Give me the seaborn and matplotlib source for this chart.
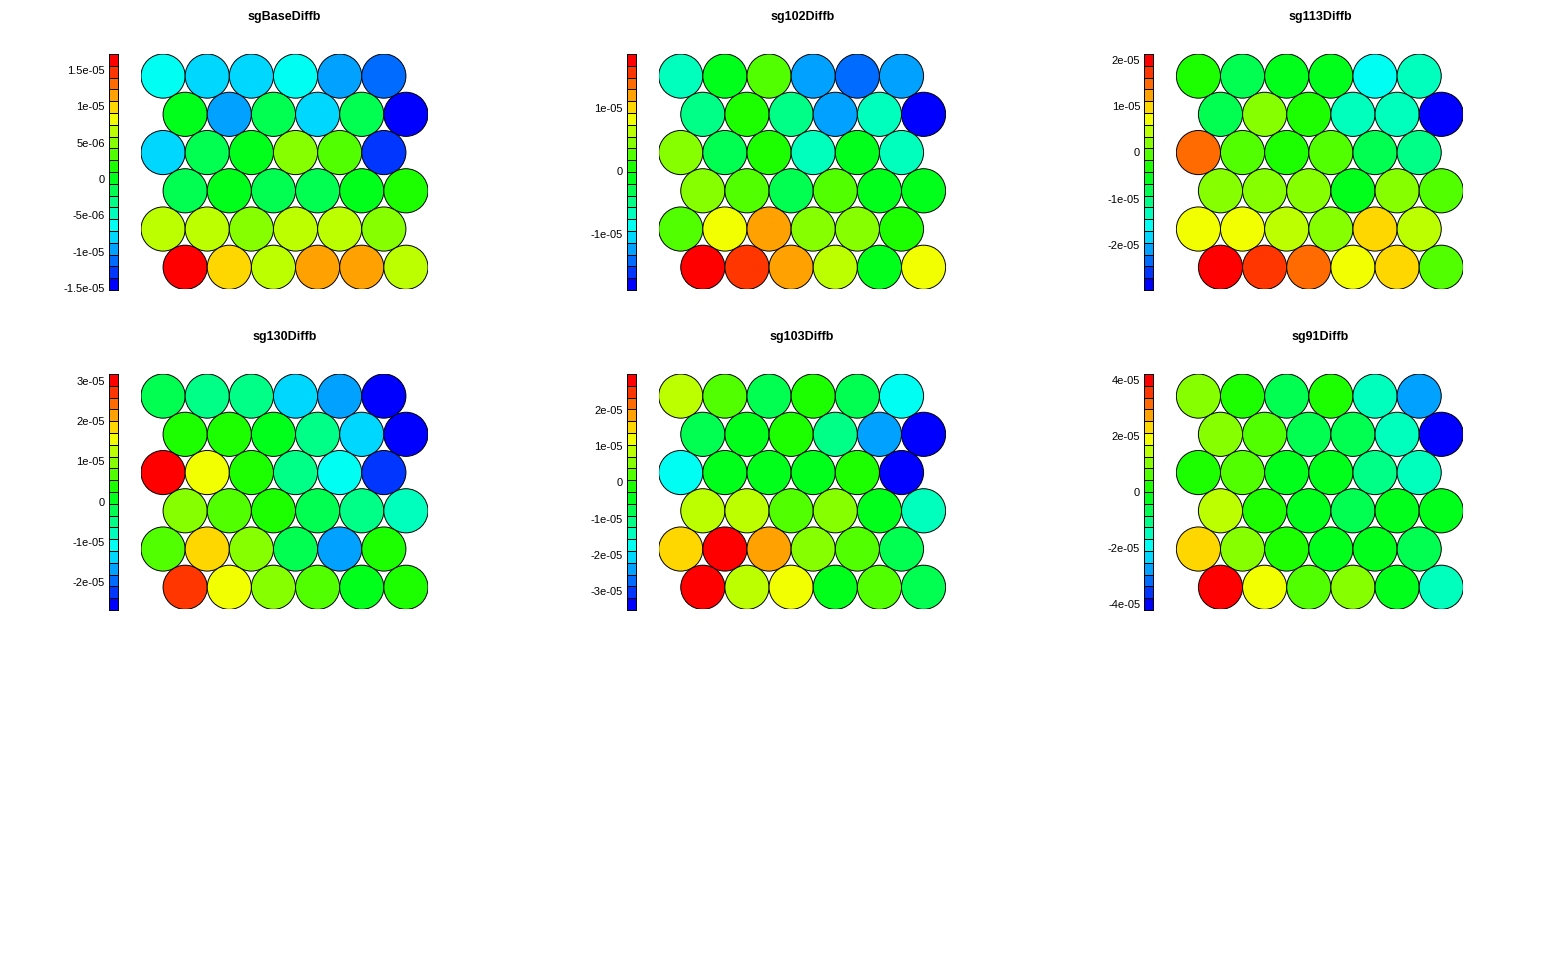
import colorsys
import numpy as np
import matplotlib
matplotlib.use("Agg")
import matplotlib.pyplot as plt
from matplotlib.patches import Circle
from matplotlib.colors import ListedColormap
import seaborn as sns

# ---------------- data (node values, top row first, 6x6 hex SOM) ----------------
titles = ["sgBaseDiffb", "sg102Diffb", "sg113Diffb", "sg130Diffb", "sg103Diffb", "sg91Diffb"]

sgBaseDiffb = [
    [-0.62e-05, -0.78e-05, -0.78e-05, -0.62e-05, -0.94e-05, -1.10e-05],
    [0.03e-05, -0.94e-05, -0.13e-05, -0.78e-05, -0.13e-05, -1.51e-05],
    [-0.78e-05, -0.13e-05, 0.03e-05, 0.52e-05, 0.35e-05, -1.27e-05],
    [-0.13e-05, 0.03e-05, -0.13e-05, -0.13e-05, 0.03e-05, 0.19e-05],
    [0.68e-05, 0.68e-05, 0.52e-05, 0.68e-05, 0.68e-05, 0.52e-05],
    [1.73e-05, 1.00e-05, 0.68e-05, 1.16e-05, 1.16e-05, 0.68e-05],
]
sg102Diffb = [
    [-0.65e-05, -0.09e-05, 0.28e-05, -1.22e-05, -1.40e-05, -1.22e-05],
    [-0.47e-05, 0.09e-05, -0.47e-05, -1.22e-05, -0.65e-05, -1.87e-05],
    [0.47e-05, -0.28e-05, 0.09e-05, -0.65e-05, -0.09e-05, -0.65e-05],
    [0.47e-05, 0.28e-05, -0.28e-05, 0.28e-05, -0.09e-05, -0.09e-05],
    [0.28e-05, 0.84e-05, 1.22e-05, 0.47e-05, 0.47e-05, 0.09e-05],
    [1.87e-05, 1.59e-05, 1.22e-05, 0.65e-05, -0.09e-05, 0.84e-05],
]
sg113Diffb = [
    [-0.27e-05, -0.78e-05, -0.53e-05, -0.53e-05, -1.55e-05, -1.29e-05],
    [-0.78e-05, 0.24e-05, -0.27e-05, -1.29e-05, -1.29e-05, -2.95e-05],
    [1.51e-05, -0.02e-05, -0.27e-05, -0.02e-05, -0.78e-05, -1.04e-05],
    [0.24e-05, 0.24e-05, 0.24e-05, -0.53e-05, 0.24e-05, -0.02e-05],
    [0.75e-05, 0.75e-05, 0.49e-05, 0.24e-05, 1.00e-05, 0.49e-05],
    [2.15e-05, 1.77e-05, 1.51e-05, 0.75e-05, 1.00e-05, -0.02e-05],
]
sg130Diffb = [
    [-0.18e-05, -0.47e-05, -0.47e-05, -1.35e-05, -1.64e-05, -2.67e-05],
    [0.41e-05, 0.41e-05, 0.12e-05, -0.47e-05, -1.35e-05, -2.60e-05],
    [3.20e-05, 1.59e-05, 0.41e-05, -0.47e-05, -1.06e-05, -2.23e-05],
    [1.00e-05, 0.71e-05, 0.41e-05, -0.18e-05, -0.47e-05, -0.76e-05],
    [0.71e-05, 1.88e-05, 1.00e-05, -0.18e-05, -1.64e-05, 0.41e-05],
    [2.76e-05, 1.59e-05, 1.00e-05, 0.71e-05, 0.12e-05, 0.41e-05],
]
sg103Diffb = [
    [0.90e-05, 0.25e-05, -0.73e-05, -0.08e-05, -0.73e-05, -1.71e-05],
    [-0.73e-05, -0.40e-05, -0.08e-05, -1.06e-05, -2.36e-05, -3.50e-05],
    [-1.71e-05, -0.40e-05, -0.40e-05, -0.40e-05, -0.08e-05, -3.45e-05],
    [0.90e-05, 0.90e-05, 0.25e-05, 0.58e-05, -0.40e-05, -1.38e-05],
    [1.55e-05, 3.02e-05, 1.88e-05, 0.58e-05, 0.25e-05, -0.73e-05],
    [2.98e-05, 0.90e-05, 1.23e-05, -0.40e-05, 0.25e-05, -0.73e-05],
]
sg91Diffb = [
    [1.09e-05, 0.25e-05, -0.60e-05, 0.25e-05, -1.44e-05, -2.70e-05],
    [1.09e-05, 0.67e-05, -0.60e-05, -0.60e-05, -1.44e-05, -4.18e-05],
    [0.25e-05, 0.67e-05, -0.18e-05, -0.18e-05, -1.02e-05, -1.44e-05],
    [1.51e-05, 0.25e-05, -0.18e-05, -0.60e-05, -0.18e-05, -0.18e-05],
    [2.35e-05, 1.09e-05, 0.25e-05, -0.18e-05, -0.18e-05, -0.60e-05],
    [4.25e-05, 1.93e-05, 0.67e-05, 1.09e-05, -0.18e-05, -1.44e-05],
]
panel_values = [sgBaseDiffb, sg102Diffb, sg113Diffb, sg130Diffb, sg103Diffb, sg91Diffb]

tick_values = [
    [-1.5e-05, -1e-05, -5e-06, 0, 5e-06, 1e-05, 1.5e-05],
    [-1e-05, 0, 1e-05],
    [-2e-05, -1e-05, 0, 1e-05, 2e-05],
    [-2e-05, -1e-05, 0, 1e-05, 2e-05, 3e-05],
    [-3e-05, -2e-05, -1e-05, 0, 1e-05, 2e-05],
    [-4e-05, -2e-05, 0, 2e-05, 4e-05],
]
tick_labels = [
    ["-1.5e-05", "-1e-05", "-5e-06", "0", "5e-06", "1e-05", "1.5e-05"],
    ["-1e-05", "0", "1e-05"],
    ["-2e-05", "-1e-05", "0", "1e-05", "2e-05"],
    ["-2e-05", "-1e-05", "0", "1e-05", "2e-05", "3e-05"],
    ["-3e-05", "-2e-05", "-1e-05", "0", "1e-05", "2e-05"],
    ["-4e-05", "-2e-05", "0", "2e-05", "4e-05"],
]

# ---------------- style ----------------
sns.set_theme(style="white")
plt.rcParams["font.family"] = ["Liberation Sans", "DejaVu Sans"]

NCOL = 20
# R rainbow(20, end=4/6) reversed: blue (low) -> red (high)
palette = sns.color_palette(
    [colorsys.hsv_to_rgb((2 / 3) * (1 - i / (NCOL - 1)), 1, 1) for i in range(NCOL)]
)
cmap = ListedColormap(palette)

W, H = 1553, 960
fig = plt.figure(figsize=(W / 100, H / 100), dpi=100)


def fig_rect(left, top, width, height):
    return [left / W, 1 - (top + height) / H, width / W, height / H]


XSTEP = W / 3.0
YSTEP = H / 3.0
SQ = np.sqrt(3) / 2

for k, (title, vals) in enumerate(zip(titles, panel_values)):
    ox = (k % 3) * XSTEP
    oy = (k // 3) * YSTEP
    arr = np.array(vals, dtype=float)
    lo, hi = arr.min(), arr.max()
    bins = np.clip(np.floor((arr - lo) / (hi - lo) * NCOL).astype(int), 0, NCOL - 1)

    # --- hex map of circles ---
    cw = 287.0
    ch = cw * (5 * SQ + 1) / 6.5
    ax = fig.add_axes(fig_rect(141 + ox, 54 + oy, cw, ch))
    for r in range(6):
        for c in range(6):
            x = c + 1 + 0.5 * (r % 2)
            y = r * SQ
            ax.add_patch(Circle((x, y), 0.5, facecolor=palette[bins[r, c]],
                                edgecolor="black", linewidth=0.7))
    ax.set_xlim(0.5, 7.0)
    ax.set_ylim(5 * SQ + 0.5, -0.5)
    ax.set_axis_off()

    # --- colour key ---
    cax = fig.add_axes(fig_rect(109 + ox, 54 + oy, 9, 236))
    key = np.arange(NCOL)[::-1].reshape(-1, 1)
    sns.heatmap(key, ax=cax, cmap=cmap, vmin=-0.5, vmax=NCOL - 0.5, cbar=False,
                linewidths=0.5, linecolor="black", xticklabels=False)
    for s in cax.spines.values():
        s.set_visible(True)
        s.set_color("black")
        s.set_linewidth(0.7)
    ypos = [(hi - v) / (hi - lo) * NCOL for v in tick_values[k]]
    cax.set_yticks(ypos)
    cax.set_yticklabels(tick_labels[k], rotation=0, fontsize=8, color="black")
    cax.yaxis.set_ticks_position("left")
    cax.tick_params(axis="y", length=0, pad=3)
    cax.set_xticks([])

    fig.text((284.5 + ox) / W, 1 - (17 + oy) / H, title, ha="center", va="center",
             fontsize=9, fontweight="bold", color="black")

fig.savefig("out.png", dpi=100, facecolor="white")
